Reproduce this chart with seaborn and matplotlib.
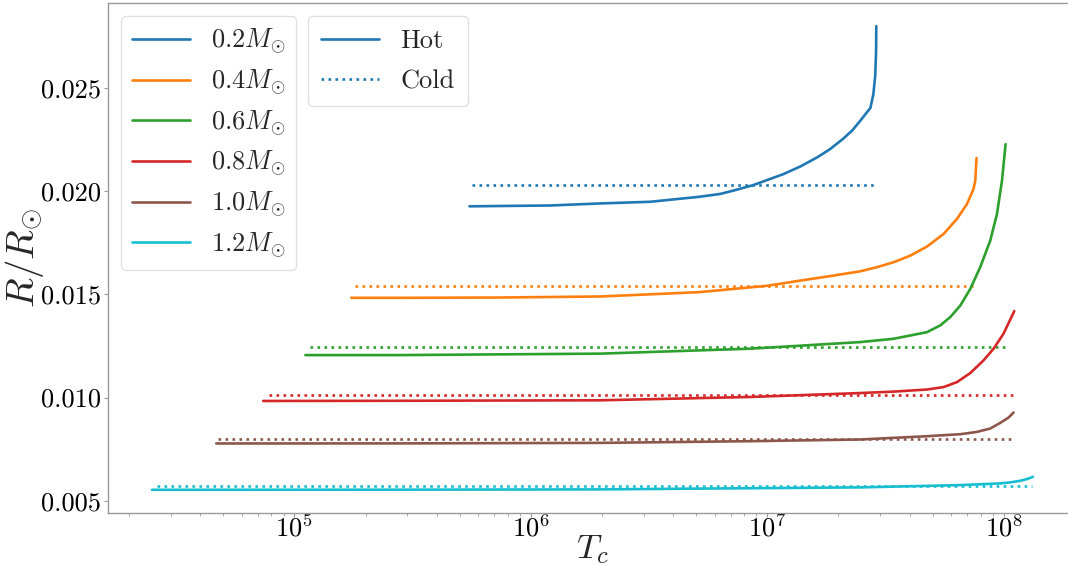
import numpy as np
import pandas as pd
import matplotlib
matplotlib.use("Agg")
import matplotlib.pyplot as plt
import seaborn as sns
from matplotlib.lines import Line2D

# ---- data ----
masses = ["0.2", "0.4", "0.6", "0.8", "1.0", "1.2"]
colors = ["#1f77b4", "#ff7f0e", "#2ca02c", "#d62728", "#8c564b", "#17becf"]

hot_T_02 = [5.50e5, 1.21e6, 1.97e6, 3.20e6, 5.14e6, 6.32e6, 7.18e6, 8.73e6, 1.17e7, 1.379e7,
            1.63e7, 1.847e7, 2.096e7, 2.288e7, 2.47e7, 2.73e7, 2.81e7, 2.86e7, 2.885e7, 2.89e7]
hot_R_02 = [0.01927, 0.01931, 0.01941, 0.01949, 0.01973, 0.01987, 0.02003, 0.02030, 0.02083, 0.02120,
            0.02165, 0.02205, 0.02255, 0.02295, 0.02341, 0.02404, 0.02472, 0.02559, 0.02679, 0.02800]

hot_T_04 = [1.74e5, 2.81e5, 7.43e5, 1.97e6, 5.15e6, 1.0e7, 1.379e7, 1.90e7, 2.473e7, 2.909e7,
            3.42e7, 4.025e7, 4.735e7, 5.567e7, 6.34e7, 6.99e7, 7.45e7, 7.58e7, 7.67e7]
hot_R_04 = [0.014835, 0.014835, 0.01485, 0.01490, 0.01511, 0.01542, 0.01567, 0.01591, 0.01612, 0.01632,
            0.01656, 0.01688, 0.01732, 0.01793, 0.01866, 0.01938, 0.02011, 0.02051, 0.02161]

hot_T_06 = [1.113e5, 2.81e5, 1.97e6, 8.47e6, 2.473e7, 3.42e7, 4.735e7, 5.39e7, 5.94e7, 6.55e7,
            7.22e7, 7.95e7, 8.77e7, 9.36e7, 9.83e7, 1.018e8]
hot_R_06 = [0.01206, 0.01206, 0.01213, 0.01237, 0.01269, 0.01285, 0.01317, 0.01350, 0.01390, 0.01446,
            0.01527, 0.01632, 0.01761, 0.01890, 0.02051, 0.02228]

hot_T_08 = [7.38e4, 2.81e5, 1.97e6, 8.47e6, 2.473e7, 3.42e7, 4.735e7, 5.567e7, 6.34e7, 7.22e7,
            8.21e7, 9.06e7, 9.98e7, 1.108e8]
hot_R_08 = [0.009836, 0.009845, 0.009869, 0.01003, 0.01022, 0.01029, 0.01039, 0.01051, 0.01075, 0.01119,
            0.01180, 0.01237, 0.01310, 0.01419]

hot_T_10 = [4.67e4, 2.81e5, 1.97e6, 8.47e6, 2.47e7, 4.75e7, 6.55e7, 7.70e7, 8.77e7, 9.66e7,
            1.048e8, 1.10e8]
hot_R_10 = [0.007776, 0.00778, 0.007805, 0.007887, 0.007969, 0.008129, 0.008225, 0.008337, 0.008501,
            0.008772, 0.009033, 0.009275]

hot_T_12 = [2.50e4, 2.81e5, 1.97e6, 2.47e7, 6.55e7, 9.66e7, 1.066e8, 1.174e8, 1.253e8, 1.329e8]
hot_R_12 = [0.00553, 0.005537, 0.005551, 0.005648, 0.005759, 0.005841, 0.00589, 0.005967, 0.00605, 0.00616]

cold_T_start = [5.64e5, 1.81e5, 1.16e5, 7.79e4, 4.74e4, 2.625e4]
cold_T_end = [2.89e7, 7.58e7, 1.018e8, 1.10e8, 1.086e8, 1.32e8]
cold_R = [0.0203, 0.01542, 0.01245, 0.01011, 0.00797, 0.0057]

hot_T = [hot_T_02, hot_T_04, hot_T_06, hot_T_08, hot_T_10, hot_T_12]
hot_R = [hot_R_02, hot_R_04, hot_R_06, hot_R_08, hot_R_10, hot_R_12]

# ---- style ----
sns.set_style("white")
plt.rcParams.update({
    "font.family": ["cmr10", "DejaVu Serif"],
    "mathtext.fontset": "cm",
    "axes.formatter.use_mathtext": True,
    "axes.unicode_minus": False,
    "axes.edgecolor": "0.6",
    "axes.linewidth": 1.0,
    "xtick.bottom": True,
    "ytick.left": True,
    "xtick.color": "0.6",
    "ytick.color": "0.6",
    "xtick.labelcolor": "black",
    "ytick.labelcolor": "black",
    "xtick.major.size": 3,
    "ytick.major.size": 3,
    "xtick.minor.size": 2.5,
    "xtick.major.width": 0.8,
    "xtick.minor.width": 0.6,
    "ytick.major.pad": 2,
    "xtick.major.pad": -2,
})

fig = plt.figure(figsize=(10.68, 5.66), dpi=100)
ax = fig.add_axes([108 / 1068, 53 / 566, 969 / 1068, 510 / 566])

lw = 1.9
for i, m in enumerate(masses):
    df = pd.DataFrame({"T": hot_T[i], "R": hot_R[i]})
    sns.lineplot(data=df, x="T", y="R", ax=ax, color=colors[i], lw=lw,
                 sort=False, estimator=None, legend=False)
    dfc = pd.DataFrame({"T": [cold_T_start[i], cold_T_end[i]], "R": [cold_R[i], cold_R[i]]})
    sns.lineplot(data=dfc, x="T", y="R", ax=ax, color=colors[i], lw=lw, linestyle=":",
                 sort=False, estimator=None, legend=False)

ax.set_xscale("log")
ax.set_yticks([0.005, 0.010, 0.015, 0.020, 0.025])
ax.set_yticklabels(["0.005", "0.010", "0.015", "0.020", "0.025"])
ax.tick_params(axis="both", labelsize=19)
ax.set_xlabel(r"$T_c$", fontsize=25)
ax.set_ylabel(r"$R/R_{\odot}$", fontsize=28)
ax.xaxis.set_label_coords(0.5, -0.040)
ax.yaxis.set_label_coords(-0.064, 0.5)

mass_handles = [Line2D([0], [0], color=c, lw=lw) for c in colors]
mass_labels = [r"$%sM_{\odot}$" % m for m in masses]
leg1 = ax.legend(mass_handles, mass_labels, loc="upper left", fontsize=19,
                 handlelength=2.2, labelspacing=0.42, frameon=True,
                 edgecolor="0.85", framealpha=0.8)
ax.add_artist(leg1)
type_handles = [Line2D([0], [0], color=colors[0], lw=lw),
                Line2D([0], [0], color=colors[0], lw=lw, linestyle=":")]
ax.legend(type_handles, ["Hot", "Cold"], loc="upper left",
          bbox_to_anchor=(200 / 969, (513 - 16) / 510), borderaxespad=0,
          fontsize=19, handlelength=2.2, labelspacing=0.62, borderpad=0.5,
          frameon=True, edgecolor="0.85", framealpha=0.8)

fig.savefig("out.png", dpi=100)
